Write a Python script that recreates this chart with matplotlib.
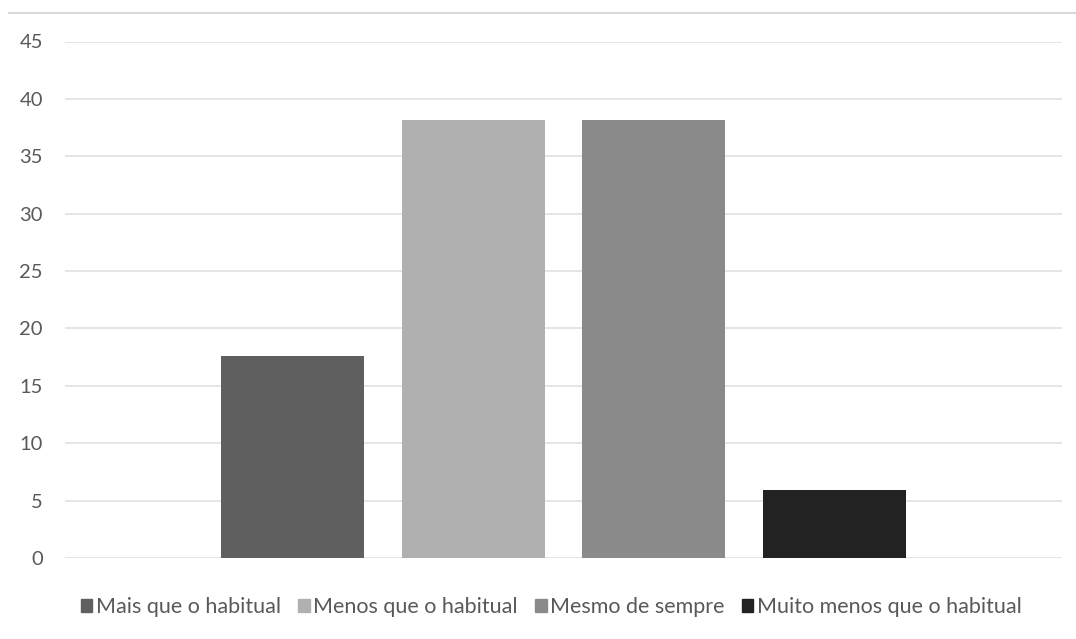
import matplotlib.pyplot as plt
from matplotlib.lines import Line2D
from matplotlib.patches import Patch

plt.rcParams['font.family'] = ['Lato', 'DejaVu Sans']

series = ["Mais que o habitual", "Menos que o habitual", "Mesmo de sempre", "Muito menos que o habitual"]
values = [17.6, 38.2, 38.2, 5.9]
colors = ["#5f5f5f", "#b0b0b0", "#8a8a8a", "#222222"]
yticks = [0, 5, 10, 15, 20, 25, 30, 35, 40, 45]

fig = plt.figure(figsize=(10.76, 6.39), dpi=100)
ax = fig.add_axes([65/1076, 81/639, 997/1076, 516.5/639])

# one category, four series side by side
width = 0.1434
step = width * 1.265
for i, (name, v, c) in enumerate(zip(series, values, colors)):
    ax.bar((i - 1.5) * step, v, width=width, color=c, label=name, zorder=3)

ax.set_xlim(-0.5, 0.5)
ax.set_ylim(0, 45)
ax.set_yticks(yticks)
ax.set_xticks([])
ax.grid(axis="y", color="#e3e3e3", linewidth=1.3, zorder=0)
for s in ax.spines.values():
    s.set_visible(False)
ax.tick_params(axis="y", length=0, pad=16, labelsize=14.5, labelcolor="#595959")

handles = [Patch(color=c, label=n) for n, c in zip(series, colors)]
fig.legend(handles=handles, loc="center", bbox_to_anchor=(551/1076, 1 - 607/639),
           ncol=4, frameon=False, fontsize=15.5, labelcolor="#595959",
           handlelength=0.55, handleheight=0.55, handletextpad=0.15, columnspacing=0.8)

# thin rule along the top edge
fig.add_artist(Line2D([9/1076, 1], [1 - 13/639, 1 - 13/639], color="#d9d9d9", linewidth=1.5))

fig.savefig("out.png", dpi=100)
